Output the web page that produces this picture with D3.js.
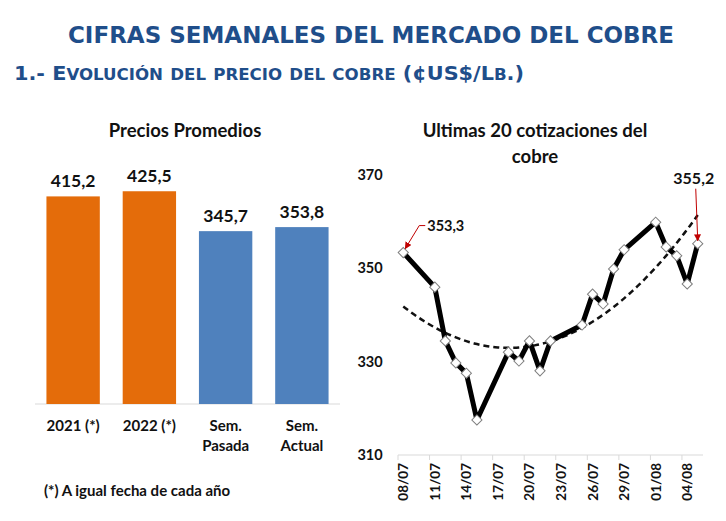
<!DOCTYPE html>
<html><head><meta charset="utf-8">
<script src="https://cdn.jsdelivr.net/npm/d3@7"></script>
<style>
html,body{margin:0;padding:0;background:#fff;}
svg{display:block;}
text{font-family:Lato,"Open Sans",sans-serif;}
text.hd{font-family:"DejaVu Sans Condensed","DejaVu Sans",Verdana,sans-serif;font-stretch:condensed;}
</style></head>
<body>
<svg id="c" width="726" height="521"></svg>
<script>
// ---- data ----
const mainTitle = "CIFRAS SEMANALES DEL MERCADO DEL COBRE";
const subTitle = "1.- Evolución del precio del cobre (¢US$/Lb.)";
const barTitle = "Precios Promedios";
const barCategories = ["2021 (*)", "2022 (*)", "Sem.\nPasada", "Sem.\nActual"];
const barValues = [415.2, 425.5, 345.7, 353.8];
const barLabels = ["415,2", "425,5", "345,7", "353,8"];
const footNote = "(*) A igual fecha de cada año";

const lineTitle = ["Ultimas 20 cotizaciones del", "cobre"];
const quoteDates = ["2022-07-08","2022-07-11","2022-07-12","2022-07-13","2022-07-14","2022-07-15",
  "2022-07-18","2022-07-19","2022-07-20","2022-07-21","2022-07-22",
  "2022-07-25","2022-07-26","2022-07-27","2022-07-28","2022-07-29",
  "2022-08-01","2022-08-02","2022-08-03","2022-08-04","2022-08-05"];
const quotePrices = [353.3, 345.9, 334.4, 329.7, 327.5, 317.5,
  332.0, 330.1, 334.4, 328.0, 334.4,
  337.8, 344.4, 342.3, 349.8, 353.9,
  359.8, 354.5, 352.6, 346.6, 355.2];
const yTicks = [310, 330, 350, 370];
const firstLabel = "353,3";
const lastLabel = "355,2";

// ---- drawing ----
const svg = d3.select("#c");
const navy = "#1F4E8A";

svg.append("text").attr("class", "hd").attr("x", 371).attr("y", 43).attr("text-anchor", "middle")
  .attr("font-weight", "bold").attr("font-size", 23)
  .attr("fill", navy).attr("textLength", 606).attr("lengthAdjust", "spacingAndGlyphs")
  .text(mainTitle);

// subtitle in small caps: lowercase letters become smaller capitals
const segs = [];
Array.from(subTitle).forEach(ch => {
  const small = ch !== ch.toUpperCase();
  const last = segs[segs.length - 1];
  if (last && last.small === small) last.t += ch; else segs.push({ small, t: ch });
});
const sub = svg.append("text").attr("class", "hd").attr("x", 14).attr("y", 80)
  .attr("font-weight", "bold").attr("fill", navy)
  .attr("textLength", 510).attr("lengthAdjust", "spacingAndGlyphs");
segs.forEach(s => {
  sub.append("tspan").attr("font-size", s.small ? 16 : 20).text(s.small ? s.t.toUpperCase() : s.t);
});

// ---- bar chart ----
const xb = d3.scaleBand().domain(barCategories).range([35, 340]).paddingInner(0.3).paddingOuter(0.15);
const yb = d3.scaleLinear().domain([0, 450]).range([404, 179]);
const barColor = (i) => i < 2 ? "#E46C0A" : "#4F81BD";

svg.append("text").attr("x", 185).attr("y", 137).attr("text-anchor", "middle")
  .attr("font-weight", "bold").attr("font-size", 18.5).attr("fill", "#111").text(barTitle);

svg.append("line").attr("x1", 35).attr("x2", 340).attr("y1", yb(0)).attr("y2", yb(0))
  .attr("stroke", "#D9D9D9").attr("stroke-width", 1);

svg.selectAll("rect.bar").data(barValues).join("rect").attr("class", "bar")
  .attr("x", (d, i) => xb(barCategories[i])).attr("width", xb.bandwidth())
  .attr("y", d => yb(d)).attr("height", d => yb(0) - yb(d))
  .attr("fill", (d, i) => barColor(i));

svg.selectAll("text.bl").data(barValues).join("text").attr("class", "bl")
  .attr("x", (d, i) => xb(barCategories[i]) + xb.bandwidth() / 2)
  .attr("y", d => yb(d) - 9).attr("text-anchor", "middle")
  .attr("font-weight", "bold").attr("font-size", 17.5).attr("fill", "#111")
  .text((d, i) => barLabels[i]);

barCategories.forEach((c, i) => {
  const t = svg.append("text").attr("text-anchor", "middle")
    .attr("font-weight", "bold").attr("font-size", 15).attr("fill", "#111");
  c.split("\n").forEach((ln, k) => {
    t.append("tspan").attr("x", xb(c) + xb.bandwidth() / 2).attr("y", 431 + k * 20).text(ln);
  });
});

svg.append("text").attr("x", 44).attr("y", 496)
  .attr("font-weight", "bold").attr("font-size", 15).attr("fill", "#111").text(footNote);

// ---- line chart ----
const parse = d3.utcParse("%Y-%m-%d");
const pts = quoteDates.map((d, i) => ({ date: parse(d), v: quotePrices[i] }));
const d0 = d3.utcHour.offset(parse("2022-07-08"), -12);
const d1 = d3.utcHour.offset(parse("2022-08-05"), 12);
const xl = d3.scaleUtc().domain([d0, d1]).range([398, 703]);
const yl = d3.scaleLinear().domain([310, 370]).range([455, 174.5]);

lineTitle.forEach((t, k) => {
  svg.append("text").attr("x", 535).attr("y", 137 + k * 26).attr("text-anchor", "middle")
    .attr("font-weight", "bold").attr("font-size", 18.5).attr("fill", "#111").text(t);
});

yTicks.forEach(v => {
  svg.append("text").attr("x", 370).attr("y", yl(v) + 5).attr("text-anchor", "middle")
    .attr("font-weight", "bold").attr("font-size", 14.5).attr("fill", "#111").text(v);
});

// x axis
svg.append("line").attr("x1", xl(d0)).attr("x2", xl(d1)).attr("y1", yl(310)).attr("y2", yl(310))
  .attr("stroke", "#D9D9D9").attr("stroke-width", 1);
const tickDates = d3.utcDay.range(parse("2022-07-08"), parse("2022-08-05"), 1).filter((d, i) => i % 3 === 0);
const fmt = d3.utcFormat("%d/%m");
tickDates.forEach(d => {
  const tx = xl(d3.utcHour.offset(d, -12));
  svg.append("line").attr("x1", tx).attr("x2", tx).attr("y1", yl(310)).attr("y2", yl(310) + 5)
    .attr("stroke", "#D9D9D9").attr("stroke-width", 1);
  svg.append("text").attr("transform", `translate(${xl(d) + 5},${yl(310) + 8}) rotate(-90)`)
    .attr("text-anchor", "end").attr("font-weight", "bold").attr("font-size", 13.5).attr("fill", "#111")
    .text(fmt(d));
});

// polynomial (order 2) trend, least squares like the spreadsheet trendline
const t0 = pts[0].date;
const dx = pts.map(p => (p.date - t0) / 864e5);
const n = dx.length;
let S = [0,0,0,0,0], T = [0,0,0];
dx.forEach((x, i) => {
  for (let k = 0; k < 5; k++) S[k] += Math.pow(x, k);
  for (let k = 0; k < 3; k++) T[k] += Math.pow(x, k) * pts[i].v;
});
function solve3(A, b) {
  const M = A.map((r, i) => [...r, b[i]]);
  for (let c = 0; c < 3; c++) {
    let p = c; for (let r = c + 1; r < 3; r++) if (Math.abs(M[r][c]) > Math.abs(M[p][c])) p = r;
    [M[c], M[p]] = [M[p], M[c]];
    for (let r = 0; r < 3; r++) if (r !== c) {
      const f = M[r][c] / M[c][c];
      for (let k = c; k < 4; k++) M[r][k] -= f * M[c][k];
    }
  }
  return M.map((r, i) => r[3] / r[i]);
}
const coef = solve3([[S[0],S[1],S[2]],[S[1],S[2],S[3]],[S[2],S[3],S[4]]], T);
const lastDay = dx[n - 1];
const trend = d3.range(0, lastDay + 0.001, 0.25).map(x => ({
  date: new Date(+t0 + x * 864e5), v: coef[0] + coef[1] * x + coef[2] * x * x }));
svg.append("path").datum(trend)
  .attr("d", d3.line().x(d => xl(d.date)).y(d => yl(d.v)))
  .attr("fill", "none").attr("stroke", "#111").attr("stroke-width", 2.5).attr("stroke-dasharray", "6,4");

svg.append("path").datum(pts)
  .attr("d", d3.line().x(d => xl(d.date)).y(d => yl(d.v)))
  .attr("fill", "none").attr("stroke", "#000").attr("stroke-width", 5).attr("stroke-linejoin", "round");

svg.selectAll("path.mk").data(pts).join("path").attr("class", "mk")
  .attr("d", d3.symbol(d3.symbolSquare, 52)())
  .attr("transform", d => `translate(${xl(d.date)},${yl(d.v)}) rotate(45)`)
  .attr("fill", "#fff").attr("stroke", "#7F7F7F").attr("stroke-width", 1);

// annotations
const defs = svg.append("defs");
defs.append("marker").attr("id", "ah").attr("viewBox", "0 0 10 10").attr("refX", 9).attr("refY", 5)
  .attr("markerWidth", 7).attr("markerHeight", 7).attr("orient", "auto")
  .append("path").attr("d", "M0,0 L10,5 L0,10 z").attr("fill", "#C00000");

const p0 = pts[0], pN = pts[n - 1];
const a0x = xl(p0.date), a0y = yl(p0.v);
svg.append("polyline")
  .attr("points", `${a0x + 22},${a0y - 27} ${a0x + 16},${a0y - 27} ${a0x + 2},${a0y - 4}`)
  .attr("fill", "none").attr("stroke", "#C00000").attr("stroke-width", 1).attr("marker-end", "url(#ah)");
svg.append("text").attr("x", a0x + 24).attr("y", a0y - 22)
  .attr("font-weight", "bold").attr("font-size", 14.5).attr("fill", "#111").text(firstLabel);

const aNx = xl(pN.date), aNy = yl(pN.v);
svg.append("line").attr("x1", aNx - 2).attr("y1", aNy - 55).attr("x2", aNx).attr("y2", aNy - 3)
  .attr("stroke", "#C00000").attr("stroke-width", 1).attr("marker-end", "url(#ah)");
svg.append("text").attr("x", aNx - 4).attr("y", aNy - 60).attr("text-anchor", "middle")
  .attr("font-weight", "bold").attr("font-size", 16).attr("fill", "#111").text(lastLabel);
</script>
</body></html>
